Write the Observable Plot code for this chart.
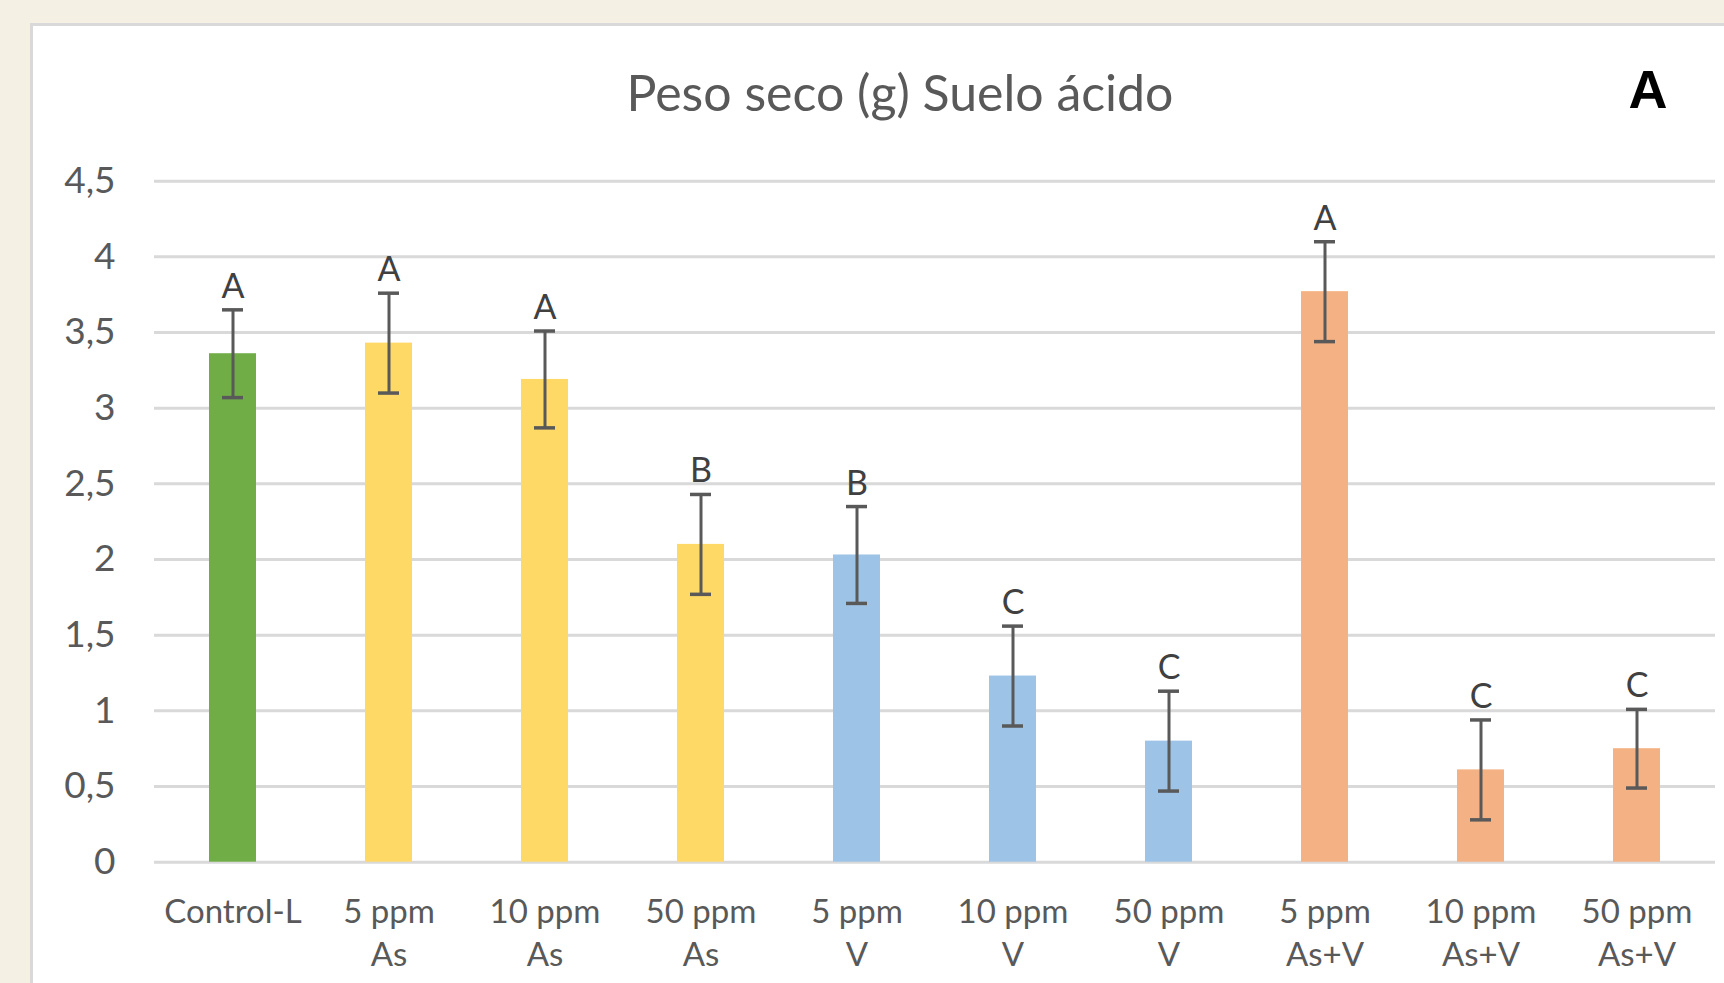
<!DOCTYPE html>
<html>
<head>
<meta charset="utf-8">
<script src="https://cdn.jsdelivr.net/npm/d3@7"></script>
<script src="https://cdn.jsdelivr.net/npm/@observablehq/plot@0.6"></script>
<style>
  html, body { margin: 0; padding: 0; }
  body { width: 1724px; height: 983px; overflow: hidden; background: #F4F1E4; font-family: Lato, sans-serif; }
  #wrap { position: relative; width: 1724px; height: 983px; }
  #panel { position: absolute; left: 30px; top: 23px; width: 1720px; height: 990px; background: #FFFFFF; border: 3px solid #D9D9D9; box-sizing: border-box; }
  #chart { position: absolute; left: 0; top: 0; }
</style>
</head>
<body>
<div id="wrap">
  <div id="panel"></div>
  <div id="chart"></div>
</div>
<script>
const categories = ["Control-L", "5 ppm As", "10 ppm As", "50 ppm As", "5 ppm V", "10 ppm V", "50 ppm V", "5 ppm As+V", "10 ppm As+V", "50 ppm As+V"];
const tickLabels = ["Control-L", "5 ppm\nAs", "10 ppm\nAs", "50 ppm\nAs", "5 ppm\nV", "10 ppm\nV", "50 ppm\nV", "5 ppm\nAs+V", "10 ppm\nAs+V", "50 ppm\nAs+V"];
const means = [3.36, 3.43, 3.19, 2.10, 2.03, 1.23, 0.80, 3.77, 0.61, 0.75];
const errors = [0.29, 0.33, 0.32, 0.33, 0.32, 0.33, 0.33, 0.33, 0.33, 0.26];
const letters = ["A", "A", "A", "B", "B", "C", "C", "A", "C", "C"];
const groups = ["Control", "As", "As", "As", "V", "V", "V", "As+V", "As+V", "As+V"];
const groupNames = ["Control", "As", "V", "As+V"];
const groupColors = ["#70AD47", "#FFD966", "#9DC3E6", "#F4B183"];
const yTicks = [0, 0.5, 1, 1.5, 2, 2.5, 3, 3.5, 4, 4.5];
const titleText = "Peso seco (g) Suelo ácido";
const panelLetter = "A";

const data = categories.map((c, i) => ({
  cat: c, mean: means[i], err: errors[i], letter: letters[i], group: groups[i]
}));

const plot = Plot.plot({
  width: 1724,
  height: 983,
  marginTop: 180.7,
  marginBottom: 121.3,
  marginLeft: 154,
  marginRight: 9,
  style: { fontFamily: "Lato, sans-serif", background: "transparent", overflow: "visible" },
  x: { domain: categories, paddingInner: 0.696, paddingOuter: 0.348 },
  y: { domain: [0, 4.5] },
  color: { domain: groupNames, range: groupColors },
  marks: [
    Plot.ruleY(yTicks, { stroke: "#D9D9D9", strokeWidth: 3 }),
    Plot.barY(data, { x: "cat", y: "mean", fill: "group" }),
    Plot.ruleX(data, { x: "cat", y1: d => d.mean - d.err, y2: d => d.mean + d.err, stroke: "#595959", strokeWidth: 3 }),
    Plot.tickY(data, { x: "cat", y: d => d.mean + d.err, stroke: "#595959", strokeWidth: 3.5, inset: 13 }),
    Plot.tickY(data, { x: "cat", y: d => d.mean - d.err, stroke: "#595959", strokeWidth: 3.5, inset: 13 }),
    Plot.text(data, { x: "cat", y: d => d.mean + d.err, text: "letter", dy: -12, lineAnchor: "bottom", fontSize: 34, fill: "#404040" }),
    Plot.axisY({ ticks: yTicks, tickSize: 0, tickPadding: 39, fontSize: 37, color: "#595959", label: null, tickFormat: d => String(d).replace(".", ",") }),
    Plot.axisX({ tickSize: 0, tickPadding: 30, fontSize: 33, lineHeight: 1.3, color: "#595959", label: null, tickFormat: d => tickLabels[categories.indexOf(d)] })
  ]
});

document.getElementById("chart").appendChild(plot);

const svg = d3.select(plot);
svg.append("text")
  .attr("x", 900).attr("y", 111)
  .attr("text-anchor", "middle")
  .attr("fill", "#595959")
  .style("font-family", "Lato, sans-serif")
  .style("font-size", "50px")
  .text(titleText);
svg.append("text")
  .attr("x", 1648).attr("y", 108)
  .attr("text-anchor", "middle")
  .attr("fill", "#000000")
  .style("font-family", "'Liberation Sans', Arial, sans-serif")
  .style("font-weight", "bold")
  .style("font-size", "54px")
  .text(panelLetter);
</script>
</body>
</html>
